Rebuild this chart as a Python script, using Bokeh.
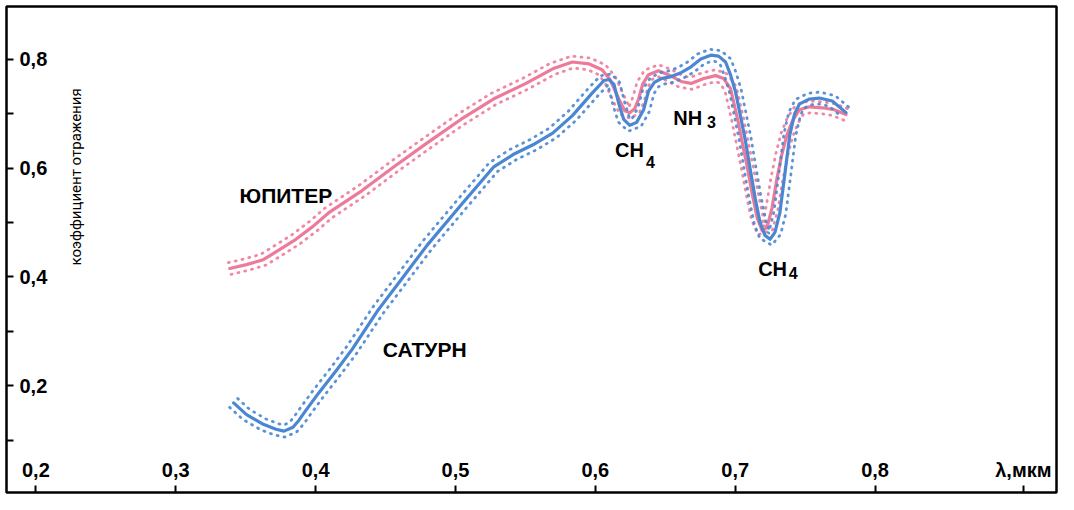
import math
from bokeh.plotting import figure
from bokeh.models import LinearAxis, FixedTicker, Label
from bokeh.embed import file_html
from bokeh.resources import INLINE

# ---------------- data ----------------
jupiter_x = [0.3386, 0.3506, 0.3626, 0.3739, 0.3859, 0.3979, 0.4092, 0.4332, 0.4565, 0.4798,
             0.5038, 0.5271, 0.5504, 0.5695, 0.5836, 0.5956, 0.6048, 0.6105, 0.6168, 0.6210,
             0.6246, 0.6281, 0.6309, 0.6338, 0.6380, 0.6451, 0.6521, 0.6613, 0.6684, 0.6775,
             0.6860, 0.6917, 0.6966, 0.7016, 0.7051, 0.7086, 0.7121, 0.7157, 0.7192, 0.7227,
             0.7263, 0.7298, 0.7333, 0.7369, 0.7411, 0.7460, 0.7531, 0.7623, 0.7708, 0.7792]
jupiter_y = [0.4156, 0.4227, 0.4317, 0.4496, 0.4692, 0.4925, 0.5176, 0.5587, 0.6035, 0.6464,
             0.6894, 0.7269, 0.7556, 0.7824, 0.7949, 0.7914, 0.7806, 0.7627, 0.7269, 0.7055,
             0.7019, 0.7090, 0.7269, 0.7538, 0.7717, 0.7788, 0.7717, 0.7592, 0.7556, 0.7645,
             0.7699, 0.7645, 0.7466, 0.6911, 0.6464, 0.6017, 0.5533, 0.5086, 0.4853, 0.4907,
             0.5265, 0.5802, 0.6249, 0.6607, 0.6876, 0.7072, 0.7126, 0.7108, 0.7072, 0.6983]

saturn_x = [0.3414, 0.3506, 0.3626, 0.3717, 0.3774, 0.3838, 0.3880, 0.3929, 0.4021, 0.4141,
            0.4261, 0.4353, 0.4445, 0.4614, 0.4798, 0.5038, 0.5271, 0.5412, 0.5554, 0.5695,
            0.5836, 0.5977, 0.6062, 0.6098, 0.6133, 0.6168, 0.6203, 0.6246, 0.6295, 0.6345,
            0.6380, 0.6422, 0.6472, 0.6542, 0.6613, 0.6684, 0.6754, 0.6825, 0.6881, 0.6931,
            0.6966, 0.7001, 0.7037, 0.7072, 0.7107, 0.7143, 0.7178, 0.7213, 0.7249, 0.7284,
            0.7319, 0.7355, 0.7390, 0.7425, 0.7460, 0.7531, 0.7602, 0.7694, 0.7792]
saturn_y = [0.1686, 0.1471, 0.1292, 0.1203, 0.1167, 0.1239, 0.1364, 0.1543, 0.1865, 0.2259,
            0.2670, 0.3028, 0.3386, 0.3959, 0.4585, 0.5319, 0.6017, 0.6249, 0.6428, 0.6643,
            0.6965, 0.7377, 0.7609, 0.7627, 0.7538, 0.7180, 0.6894, 0.6786, 0.6840, 0.7072,
            0.7413, 0.7574, 0.7645, 0.7681, 0.7753, 0.7860, 0.8003, 0.8075, 0.8057, 0.7949,
            0.7717, 0.7413, 0.6965, 0.6518, 0.5981, 0.5444, 0.4997, 0.4764, 0.4692, 0.4818,
            0.5176, 0.5891, 0.6607, 0.7001, 0.7180, 0.7269, 0.7287, 0.7233, 0.7019]

x_ticks = [0.2, 0.3, 0.4, 0.5, 0.6, 0.7, 0.8]
x_tick_labels = ["0,2", "0,3", "0,4", "0,5", "0,6", "0,7", "0,8"]
x_unit_tick = 0.906
x_unit_label = "λ,мкм"
y_major = [0.2, 0.4, 0.6, 0.8]
y_major_labels = ["0,2", "0,4", "0,6", "0,8"]
y_minor = [0.1, 0.3, 0.5, 0.7]
y_title = "коэффициент отражения"

PINK = "#EE7A9A"
BLUE = "#4A87D2"
FONT = "Liberation Sans"

# ---------------- figure ----------------
W, H = 1058, 494
BL, BT, BR, BB = 6, 6, 2, 2          # borders around the frame
X0, X1 = 0.1790, 0.9297
Y0, Y1 = 0.0040, 0.8969

p = figure(width=W, height=H, x_range=(X0, X1), y_range=(Y0, Y1),
           output_backend="svg", toolbar_location=None,
           x_axis_location=None, y_axis_location=None,
           min_border_left=BL, min_border_top=BT, min_border_right=BR, min_border_bottom=BB)
p.grid.grid_line_color = None
p.outline_line_color = "black"
p.outline_line_width = 2.5
p.background_fill_color = "white"
p.border_fill_color = "white"

# x axis drawn along the bottom edge, ticks and labels pointing inward
xa = LinearAxis(fixed_location=Y0,
                ticker=FixedTicker(ticks=x_ticks + [x_unit_tick], minor_ticks=[]),
                major_label_overrides={**dict(zip(x_ticks, x_tick_labels)), x_unit_tick: x_unit_label})
xa.axis_line_color = None
xa.major_tick_in = 0
xa.major_tick_out = 7
xa.major_tick_line_width = 2
xa.minor_tick_line_color = None
xa.major_label_standoff = 5
xa.major_label_text_font = FONT
xa.major_label_text_font_style = "bold"
xa.major_label_text_font_size = "20px"
xa.major_label_text_color = "black"
p.add_layout(xa, "above")

# y axis drawn along the left edge, ticks and labels pointing inward
ya = LinearAxis(fixed_location=X0,
                ticker=FixedTicker(ticks=y_major, minor_ticks=y_minor),
                major_label_overrides=dict(zip(y_major, y_major_labels)))
ya.axis_line_color = None
ya.major_tick_in = 0
ya.major_tick_out = 7
ya.minor_tick_in = 0
ya.minor_tick_out = 7
ya.major_tick_line_width = 2
ya.minor_tick_line_width = 2
ya.minor_tick_line_color = "black"
ya.major_label_standoff = 6
ya.major_label_text_font = FONT
ya.major_label_text_font_style = "bold"
ya.major_label_text_font_size = "20px"
ya.major_label_text_color = "black"
p.add_layout(ya, "right")

# ---------------- curves ----------------
sx = (W - BL - BR) / (X1 - X0)
sy = (H - BT - BB) / (Y1 - Y0)


def offset_curve(xs, ys, d):
    """Shift a series d screen pixels along its normal (for the dotted edges)."""
    X = [(x - X0) * sx for x in xs]
    Y = [(y - Y0) * sy for y in ys]
    ox, oy = [], []
    n = len(X)
    for i in range(n):
        a = max(i - 1, 0)
        b = min(i + 1, n - 1)
        tx, ty = X[b] - X[a], Y[b] - Y[a]
        L = math.hypot(tx, ty) or 1.0
        nx, ny = -ty / L, tx / L
        ox.append((X[i] + d * nx) / sx + X0)
        oy.append((Y[i] + d * ny) / sy + Y0)
    return ox, oy


for xs, ys, col in [(jupiter_x, jupiter_y, PINK), (saturn_x, saturn_y, BLUE)]:
    for d in (6.0, -6.0):
        ox, oy = offset_curve(xs, ys, d)
        p.line(ox, oy, line_color=col, line_width=2.8, line_dash="1 6",
               line_cap="round", line_alpha=0.9)
    p.line(xs, ys, line_color=col, line_width=3.2, line_join="round", line_cap="round")

# ---------------- annotations ----------------
def lab(x, y, text, size="21px", style="bold", align="left", baseline="alphabetic",
        angle=0.0, font=FONT):
    p.add_layout(Label(x=x, y=y, text=text, text_font=font, text_font_size=size,
                       text_font_style=style, text_color="black", text_align=align,
                       text_baseline=baseline, angle=angle))


lab(0.3456, 0.5498, "ЮПИТЕР")
lab(0.4480, 0.2670, "САТУРН")
lab(0.6141, 0.6339, "CH", size="20px")
lab(0.6362, 0.6106, "4", size="16px")
lab(0.6557, 0.6929, "NH", size="20px")
lab(0.6798, 0.6840, "3", size="16px")
lab(0.7164, 0.4138, "CH", size="20px")
lab(0.7383, 0.4066, "4", size="16px")
lab(0.2284, 0.5838, y_title, size="15px", style="normal", align="center",
    baseline="middle", angle=math.pi / 2, font="Roboto")

open("out.html", "w").write(file_html(p, INLINE))
